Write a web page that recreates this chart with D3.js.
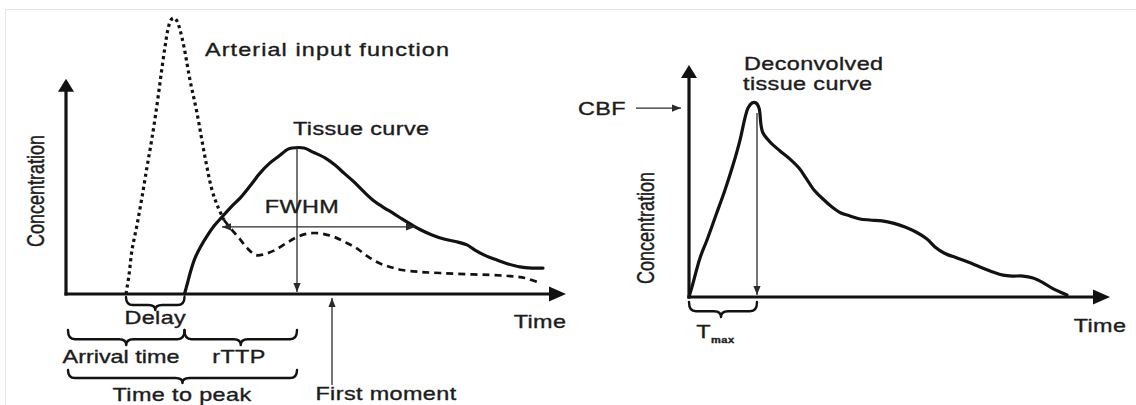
<!DOCTYPE html>
<html>
<head>
<meta charset="utf-8">
<script src="https://cdn.jsdelivr.net/npm/d3@7"></script>
<style>
  html, body { margin: 0; padding: 0; background: #fff; }
  svg { display: block; }
  text { font-family: "Liberation Sans", Arial, Helvetica, sans-serif; fill: #1c1c1c; stroke: #1c1c1c; stroke-width: 0.35px; }
</style>
</head>
<body>
<svg id="chart" width="1136" height="405"></svg>
<script>
// ---- Data -------------------------------------------------------------
// Arterial input function: time (s) and relative concentration
const aifTime = [6.0, 6.3, 6.6, 7.1, 7.6, 8.1, 8.6, 9.1, 9.5, 9.9, 10.2, 10.5, 10.8, 11.1, 11.4, 11.8,
  12.4, 13.1, 13.9, 14.6, 15.2, 15.8, 16.5, 17.3, 18.1, 19.0, 19.9, 20.9, 21.9, 22.9, 23.9, 24.8,
  25.8, 26.8, 27.9, 29.0, 30.1, 31.3, 32.4, 33.6, 35.4, 37.4, 39.9, 42.4, 44.4, 45.9, 47.4];
const aifConc = [0, 6.9, 15.9, 25.0, 35.1, 46.0, 56.5, 68.5, 79.3, 89.5, 96.0, 99.3, 100, 98.9, 95.7, 89.5,
  77.5, 65.6, 49.6, 37.7, 31.5, 26.8, 23.6, 20.3, 16.7, 14.1, 14.5, 15.9, 18.1, 20.3, 21.7, 22.1,
  21.7, 20.7, 18.8, 16.7, 13.8, 11.2, 9.8, 8.7, 8.0, 7.6, 7.2, 6.9, 6.5, 5.8, 4.0];
// first-pass bolus ends here, recirculation follows
const aifBolusEnd = 15.8;

// Tissue concentration curve
const tissueTime = [11.85, 12.15, 12.5, 12.9, 13.5, 14.1, 14.8, 15.6, 16.5, 17.5, 18.4, 19.4, 20.4, 21.3,
  22.2, 22.6, 23.8, 24.7, 25.9, 26.9, 27.8, 28.8, 29.8, 30.8, 31.7, 32.7, 33.6, 34.6, 35.5, 36.6,
  37.8, 39.2, 40.1, 40.9, 42.0, 43.1, 44.2, 45.4, 46.6, 47.7];
const tissueConc = [0, 4.0, 8.7, 13.0, 17.4, 21.0, 24.6, 27.9, 31.5, 35.1, 39.1, 43.8, 47.5, 50.0,
  52.5, 52.9, 52.9, 51.4, 49.3, 46.7, 43.8, 40.6, 37.0, 33.7, 31.5, 29.3, 27.2, 25.0, 23.2, 21.4,
  19.9, 18.8, 17.8, 15.9, 13.8, 12.3, 10.9, 9.8, 9.4, 9.4];

// Deconvolved tissue curve (residue function scaled by CBF)
const deconvTime = [0, 0.3, 1.1, 1.8, 2.7, 3.6, 4.4, 5.1, 5.6, 5.9, 6.3, 6.7, 7.0, 7.2, 7.4, 8.1, 9.1,
  10.1, 11.0, 11.7, 12.5, 13.4, 14.3, 15.2, 16.1, 17.1, 18.1, 19.3, 20.4, 21.6, 22.7, 23.8, 24.6,
  25.5, 26.8, 27.9, 29.1, 30.4, 31.4, 32.3, 33.4, 34.4, 35.3, 36.3, 37.1, 37.8];
const deconvConc = [0, 5.2, 20.1, 29.4, 42.3, 55.2, 68.0, 80.9, 92.3, 97.4, 100, 100, 97.4, 88.7, 84.5,
  79.9, 75.3, 71.1, 66.5, 61.3, 55.2, 50.5, 46.4, 43.3, 41.8, 40.2, 39.7, 39.2, 38.1, 36.1, 33.5,
  29.9, 25.8, 22.7, 20.1, 18.0, 15.5, 12.9, 11.3, 10.8, 10.8, 9.8, 7.7, 4.6, 2.6, 1.0];

// Derived timings (s) and levels
const arrivalTime = 6.0;      // AIF arrival
const tissueArrival = 11.85;  // tissue arrival
const timeToPeak = 23.1;
const firstMoment = 26.6;
const tissuePeak = 52.9;
const fwhmLevel = 24.3;
const fwhmRange = [15.6, 34.9];
const tmax = 6.8;
const tmaxLevel = 94.8;
const cbfLevel = 97.4;

// Axis extents
const leftAxisMax = [50, 78];
const rightAxisMax = [42.1, 119.6];

// ---- Scales -----------------------------------------------------------
const xL = d3.scaleLinear().domain([0, 50]).range([66, 566]);
const yL = d3.scaleLinear().domain([0, 100]).range([294, 18]);
const xR = d3.scaleLinear().domain([0, 42.1]).range([689, 1110]);
const yR = d3.scaleLinear().domain([0, 100]).range([297, 103]);

const svg = d3.select("#chart");
const ink = "#121212";
const thin = "#2a2a2a";

// light frame along the top and left edges
svg.append("path")
  .attr("d", "M5.5,405 V9.5 H1136")
  .attr("fill", "none").attr("stroke", "#e4e4e4").attr("stroke-width", 1);

const zip = (a, b) => a.map((v, i) => [v, b[i]]);
const curve = (xs, ys) => d3.line()
  .x(d => xs(d[0])).y(d => ys(d[1]))
  .curve(d3.curveCatmullRom.alpha(0.5));

// triangle arrow head with its tip at (x, y), pointing along angle (deg)
function head(g, x, y, angle, len, hw, color) {
  g.append("path")
    .attr("d", `M0,0 L${-len},${-hw} L${-len},${hw} Z`)
    .attr("transform", `translate(${x},${y}) rotate(${angle})`)
    .attr("fill", color);
}

function axes(g, xs, ys, max) {
  const x0 = xs(0), y0 = ys(0);
  const yTop = ys(max[1]), xEnd = xs(max[0]);
  g.append("line").attr("x1", x0).attr("y1", y0 + 1.5).attr("x2", x0).attr("y2", yTop + 10)
    .attr("stroke", ink).attr("stroke-width", 3.2);
  g.append("line").attr("x1", x0 - 1.5).attr("y1", y0).attr("x2", xEnd - 12).attr("y2", y0)
    .attr("stroke", ink).attr("stroke-width", 3.2);
  head(g, x0, yTop, -90, 13, 8, ink);
  head(g, xEnd, y0, 0, 17, 7.5, ink);
}

function arrowLine(g, x1, y1, x2, y2, ends) {
  g.append("line").attr("x1", x1).attr("y1", y1).attr("x2", x2).attr("y2", y2)
    .attr("stroke", thin).attr("stroke-width", 1.3);
  const a = Math.atan2(y2 - y1, x2 - x1) * 180 / Math.PI;
  if (ends.includes("end")) head(g, x2, y2, a, 9, 3.6, thin);
  if (ends.includes("start")) head(g, x1, y1, a + 180, 9, 3.6, thin);
}

// curly brace opening upwards, hanging below [x1, x2]
function brace(g, x1, x2, yTop, depth, tipX) {
  const y1 = yTop + depth * 0.62, y2 = yTop + depth, c = 7;
  const t = tipX === undefined ? (x1 + x2) / 2 : tipX;
  g.append("path")
    .attr("d", `M${x1},${yTop} Q${x1},${y1} ${x1 + c},${y1} L${t - c},${y1} Q${t},${y1} ${t},${y2}` +
               ` Q${t},${y1} ${t + c},${y1} L${x2 - c},${y1} Q${x2},${y1} ${x2},${yTop}`)
    .attr("fill", "none").attr("stroke", ink).attr("stroke-width", 2.4)
    .attr("stroke-linecap", "round").attr("stroke-linejoin", "round");
}

const SX = 1.3;  // typeface drawn slightly extended
function label(g, txt, x, y, opts = {}) {
  const rot = opts.rotate ? ` rotate(${opts.rotate})` : "";
  return g.append("text")
    .attr("transform", `translate(${x},${y}) scale(${SX},1)${rot}`)
    .attr("text-anchor", opts.anchor || "start")
    .attr("font-size", opts.size || 18)
    .attr("font-weight", opts.weight || "normal")
    .attr("letter-spacing", opts.ls === undefined ? 0.3 : opts.ls)
    .text(txt);
}

// ---- Left panel: AIF and tissue curve ---------------------------------
const L = svg.append("g");
const aif = zip(aifTime, aifConc);
const bolus = aif.filter(d => d[0] <= aifBolusEnd);
const recirc = aif.filter(d => d[0] >= aifBolusEnd);

L.append("path").datum(bolus).attr("d", curve(xL, yL))
  .attr("fill", "none").attr("stroke", ink).attr("stroke-width", 3.2)
  .attr("stroke-dasharray", "3.2,3.4");
L.append("path").datum(recirc).attr("d", curve(xL, yL))
  .attr("fill", "none").attr("stroke", ink).attr("stroke-width", 2.7)
  .attr("stroke-dasharray", "7,5");

L.append("path").datum(zip(tissueTime, tissueConc)).attr("d", curve(xL, yL))
  .attr("fill", "none").attr("stroke", ink).attr("stroke-width", 3.2)
  .attr("stroke-linejoin", "round").attr("stroke-linecap", "round");

axes(L, xL, yL, leftAxisMax);

// peak height, FWHM and first moment markers
arrowLine(L, xL(timeToPeak), yL(tissuePeak), xL(timeToPeak), yL(0) - 2, ["end"]);
arrowLine(L, xL(fwhmRange[0]), yL(fwhmLevel), xL(fwhmRange[1]), yL(fwhmLevel), ["start", "end"]);
arrowLine(L, xL(firstMoment), yL(0) + 91, xL(firstMoment), yL(0) + 4, ["end"]);

// timing braces
const b0 = yL(0);
brace(L, xL(arrivalTime), xL(tissueArrival), b0 + 3, 13);
brace(L, xL(0) + 2, xL(tissueArrival), b0 + 36, 15);
brace(L, xL(tissueArrival), xL(timeToPeak), b0 + 36, 15);
brace(L, xL(0) + 2, xL(timeToPeak), b0 + 76, 13);

label(L, "Arterial input function", 205, 56, { ls: 0.85 });
label(L, "Tissue curve", 293, 135);
label(L, "FWHM", 302, 213, { anchor: "middle" });
label(L, "Delay", (xL(arrivalTime) + xL(tissueArrival)) / 2, 324, { anchor: "middle" });
label(L, "Arrival time", 121, 363, { anchor: "middle", ls: 0 });
label(L, "rTTP", 239, 363, { anchor: "middle" });
label(L, "Time to peak", 182, 401, { anchor: "middle" });
label(L, "First moment", 386, 400, { anchor: "middle" });
label(L, "Time", 540, 328, { anchor: "middle" });
label(L, "Concentration", 44, 191, { anchor: "middle", rotate: -90, ls: 0 });

// ---- Right panel: deconvolved tissue curve ----------------------------
const R = svg.append("g");
R.append("path").datum(zip(deconvTime, deconvConc)).attr("d", curve(xR, yR))
  .attr("fill", "none").attr("stroke", ink).attr("stroke-width", 3.2)
  .attr("stroke-linejoin", "round").attr("stroke-linecap", "round");

axes(R, xR, yR, rightAxisMax);

arrowLine(R, xR(tmax), yR(tmaxLevel), xR(tmax), yR(0) - 2, ["end"]);
arrowLine(R, xR(0) - 53, yR(cbfLevel), xR(0) - 8, yR(cbfLevel), ["end"]);
brace(R, xR(0), xR(tmax), yR(0) + 5, 15, (xR(0) + xR(tmax)) / 2 - 2);

label(R, "CBF", 578, 115);
label(R, "Deconvolved", 744, 70);
label(R, "tissue curve", 743, 90);
label(R, "T", 703.5, 338, { anchor: "middle" });
label(R, "max", 711, 343, { size: 8.5, weight: "bold", ls: 0.4 });
label(R, "Concentration", 654, 228, { anchor: "middle", rotate: -90, ls: 0 });
label(R, "Time", 1100, 332, { anchor: "middle" });
</script>
</body>
</html>
